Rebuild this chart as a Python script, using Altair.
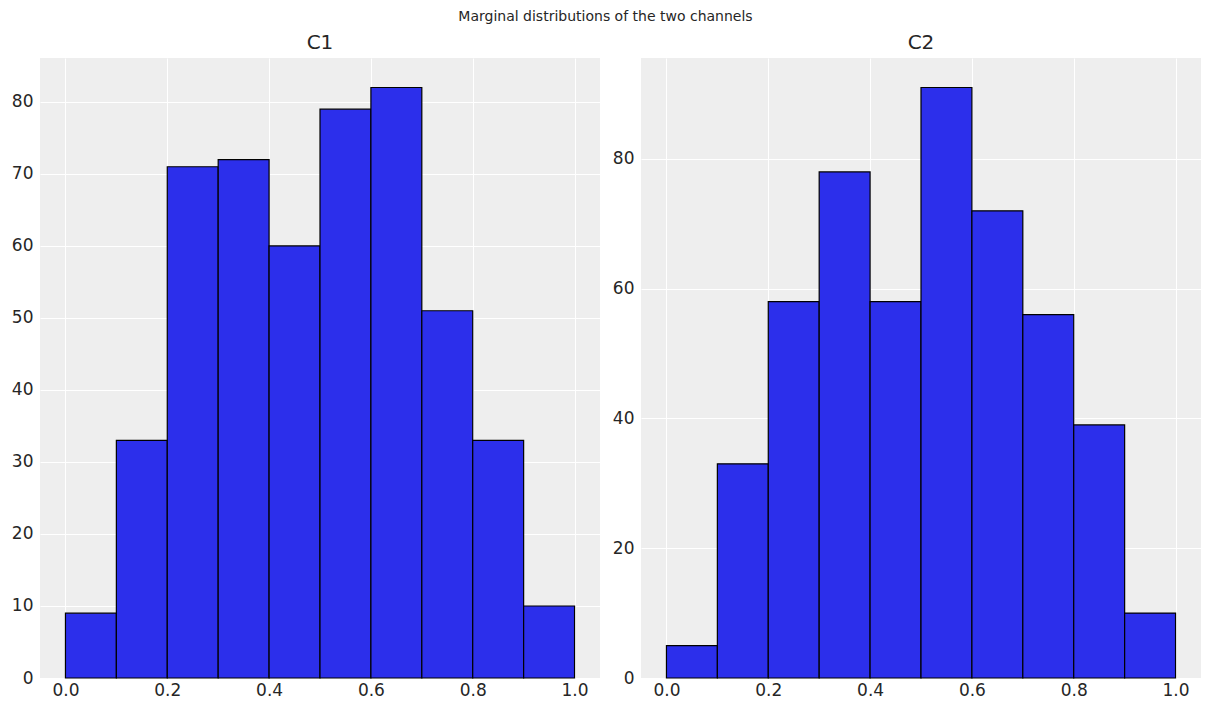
import altair as alt
import pandas as pd

bin_starts = [0.0, 0.1, 0.2, 0.3, 0.4, 0.5, 0.6, 0.7, 0.8, 0.9]
bin_ends = [0.1, 0.2, 0.3, 0.4, 0.5, 0.6, 0.7, 0.8, 0.9, 1.0]
c1_counts = [9, 33, 71, 72, 60, 79, 82, 51, 33, 10]
c2_counts = [5, 33, 58, 78, 58, 91, 72, 56, 39, 10]

FONT = "DejaVu Sans"
TEXT = "#262626"
BAR = "#2C2FEB"


def panel(name, counts, ymax, ystep):
    df = pd.DataFrame({"start": bin_starts, "end": bin_ends, "count": counts})
    return (
        alt.Chart(df, title=alt.TitleParams(name, fontSize=20, font=FONT, color=TEXT,
                                            fontWeight="normal", offset=5))
        .mark_bar(color=BAR, stroke="black", strokeWidth=1.2)
        .encode(
            x=alt.X("start:Q", scale=alt.Scale(domain=[-0.05, 1.05], nice=False, zero=False),
                    axis=alt.Axis(values=[0.0, 0.2, 0.4, 0.6, 0.8, 1.0], format=".1f",
                                  title=None, labelFontSize=17, labelFont=FONT,
                                  labelColor=TEXT, tickSize=0, labelPadding=4,
                                  domain=False, gridColor="white", gridWidth=1,
                                  labelFlush=False)),
            x2="end:Q",
            y=alt.Y("count:Q", scale=alt.Scale(domain=[0, ymax], nice=False),
                    axis=alt.Axis(values=list(range(0, int(ymax) + 1, ystep)),
                                  title=None, labelFontSize=17, labelFont=FONT,
                                  labelColor=TEXT, tickSize=0, labelPadding=7,
                                  domain=False, gridColor="white", gridWidth=1,
                                  minExtent=30, maxExtent=30, labelFlush=False)),
            y2=alt.datum(0),
        )
        .properties(width=560, height=620)
    )


left = panel("C1", c1_counts, 86.1, 10)
right = panel("C2", c2_counts, 95.55, 20)

chart = (
    alt.hconcat(left, right, spacing=11)
    .properties(
        title=alt.TitleParams("Marginal distributions of the two channels", fontSize=14,
                              font=FONT, color=TEXT, fontWeight="normal", anchor="middle",
                              offset=9),
        padding={"left": 10, "top": 10, "right": 10, "bottom": 2},
        background="white",
    )
    .configure_view(fill="#EEEEEE", stroke=None)
)

chart.save("out.html", embed_options={"renderer": "svg", "actions": False})
